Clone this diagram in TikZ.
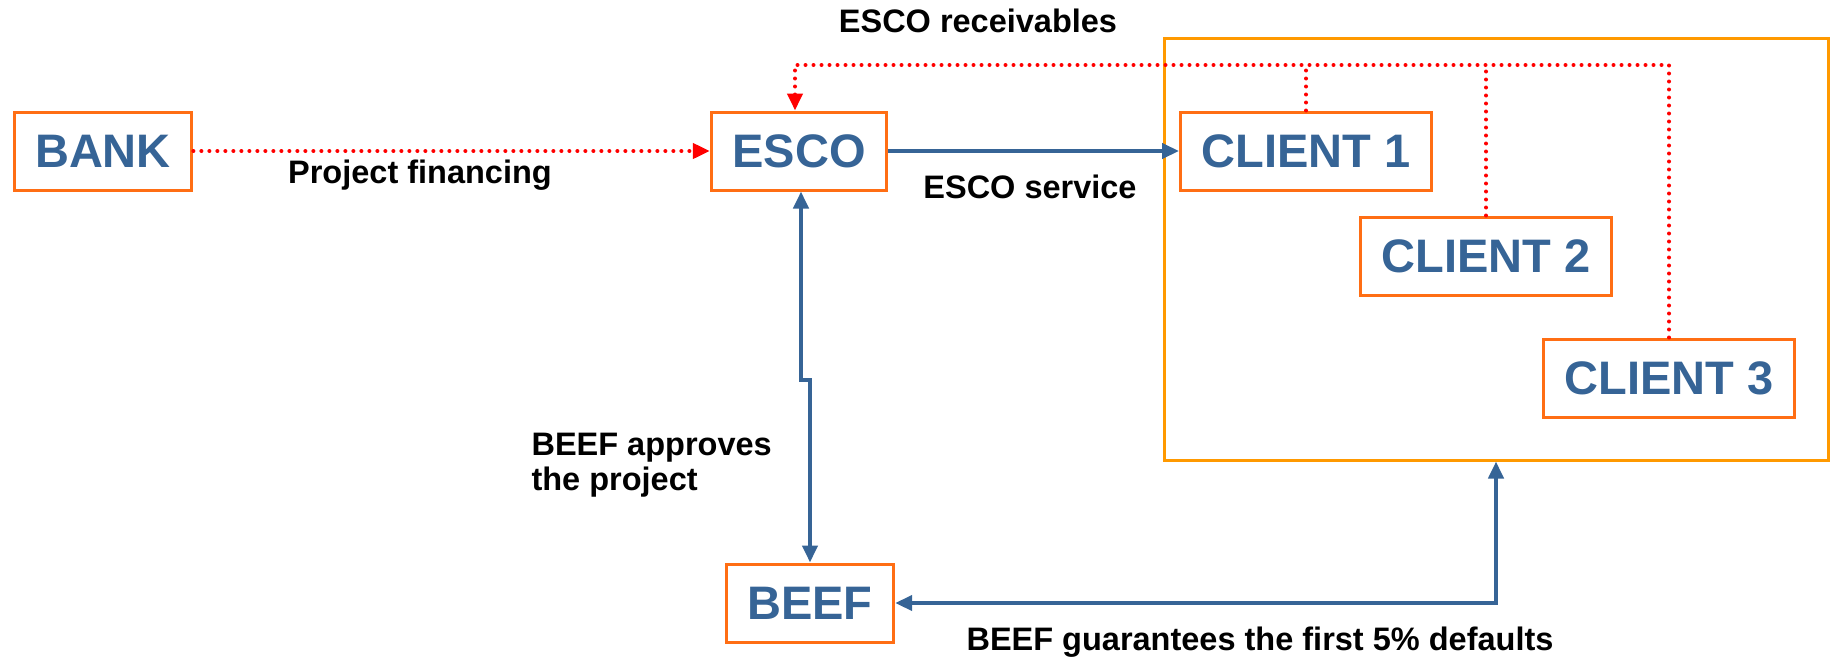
\documentclass[tikz,border=0pt]{standalone}
\usepackage{fontspec}
\setmainfont{Liberation Sans}
\usetikzlibrary{arrows.meta}

\definecolor{boxorange}{RGB}{255,110,20}
\definecolor{frameorange}{RGB}{255,153,0}
\definecolor{flowblue}{RGB}{54,100,150}

\begin{document}
\begin{tikzpicture}[x=1pt, y=-1pt, >={Triangle[length=17pt,width=15pt]},
  party/.style={draw=boxorange, line width=3pt, fill=white, text=flowblue,
    font=\fontsize{47}{56}\selectfont\bfseries, minimum height=78pt, inner xsep=21pt},
  clientframe/.style={draw=frameorange, line width=3pt, minimum width=664pt, minimum height=422pt},
  flow/.style={draw=flowblue, line width=4pt},
  claim/.style={draw=red, line width=4pt, line cap=round, dash pattern=on 0pt off 8pt},
  lbl/.style={font=\fontsize{32.5}{35}\selectfont\bfseries, align=left}]
        \useasboundingbox (0,0) rectangle (1831,662);
        % parties
        \node[clientframe] (clients) at (1496,249) {};
        \node[party] (bank) at (103,151) {BANK};
        \node[party] (esco) at (799,151) {ESCO};
        \node[party] (c1) at (1306,151) {CLIENT 1};
        \node[party] (c2) at (1486,256) {CLIENT 2};
        \node[party] (c3) at (1669,378) {CLIENT 3};
        \node[party] (beef) at (810,603) {BEEF};
        \coordinate (rtop) at (795,65);
        \coordinate (jog) at (805,380);
        % flows
        \draw[claim, ->] (bank) -- (esco);
        \draw[flow, ->] (esco) -- (c1);
        \draw[claim, ->] (c3.north) |- (rtop) -- (rtop |- esco.north);
        \draw[claim] (c1.north) -- (c1.north |- rtop);
        \draw[claim] (c2.north) -- (c2.north |- rtop);
        \draw[flow, <->] ([xshift=2pt]esco.south) |- (jog) -| (beef.north);
        \draw[flow, <->] (beef.east) -| (clients.south);
        % labels
        \node[lbl] (finlbl) at (420,175) {Project financing};
        \node[lbl] (srvlbl) at (1030,187) {ESCO service};
        \node[lbl, anchor=west] (apprlbl) at (528,465) {BEEF approves\\the project};
        \node[lbl] (guarlbl) at (1260,642) {BEEF guarantees the first 5\% defaults};
        \node[lbl] (recvlbl) at (978,21) {ESCO receivables};
      \end{tikzpicture}
\end{document}
